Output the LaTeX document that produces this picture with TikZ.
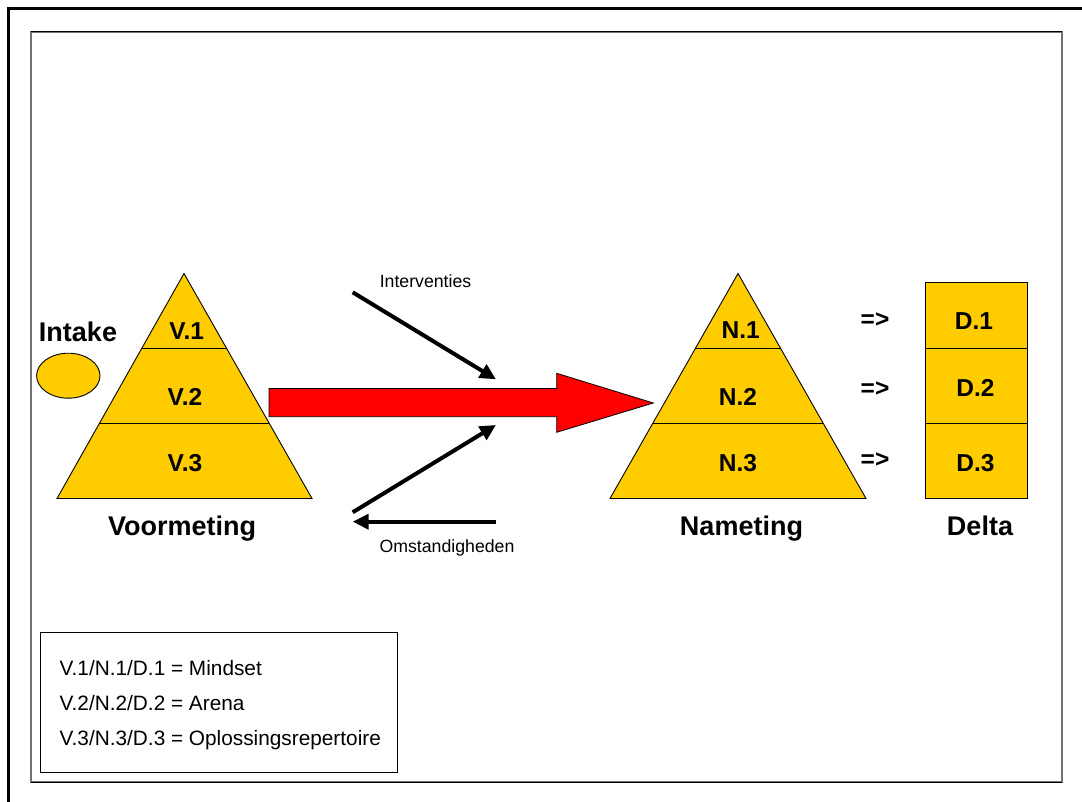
\documentclass[tikz,border=0pt]{standalone}
\usepackage{fontspec}
\setmainfont{Liberation Sans}
\usetikzlibrary{arrows.meta,shapes.geometric,calc}
\definecolor{gold}{RGB}{255,204,0}
\definecolor{framegray}{RGB}{115,115,115}
\begin{document}
\begin{tikzpicture}[x=1pt,y=-1pt,
  layer/.style={fill=gold,draw=black,line width=0.9pt,line join=miter},
  divider/.style={draw=black,line width=0.9pt},
  biglabel/.style={anchor=base,inner sep=0pt,font=\fontsize{27}{30}\selectfont\bfseries},
  tierlabel/.style={anchor=base,inner sep=0pt,font=\fontsize{24.5}{28}\selectfont\bfseries},
  smalllabel/.style={anchor=base,inner sep=0pt,font=\fontsize{17.7}{20}\selectfont},
  legendline/.style={anchor=base west,inner sep=0pt,font=\fontsize{20.8}{24}\selectfont},
  influence/.style={line width=4pt,-{Triangle[length=16pt,width=15pt]}},
]
\useasboundingbox (0,0) rectangle (1082,802);
\fill[white] (0,0) rectangle (1082,802);

% page frame
\draw[line width=3pt] (8.5,802) -- (8.5,8.5) -- (1082,8.5);
\draw[framegray,line width=1.8pt] (31,32) rectangle (1062,782);
\draw[black,line width=1pt] (31,32) -- (1062,32);
\draw[black,line width=1pt] (31,782) -- (1062,782);

% pyramid before (Voormeting)
\coordinate (va) at (184,273.5);
\coordinate (vl) at (57,498.5);
\coordinate (vr) at (312,498.5);
\path[layer] (va) -- (vl) -- (vr) -- cycle;
\draw[divider] ($(va)!1/3!(vl)$) -- ($(va)!1/3!(vr)$);
\draw[divider] ($(va)!2/3!(vl)$) -- ($(va)!2/3!(vr)$);
\node[tierlabel] (v1) at (186.7,339.3) {V.1};
\node[tierlabel] (v2) at (185,405.5) {V.2};
\node[tierlabel] (v3) at (185,471.5) {V.3};
\node[biglabel] (voor) at (182,535) {Voormeting};

% intake
\node[biglabel] (intake) at (78,341.7) {Intake};
\node[ellipse,fill=gold,draw=black,line width=0.9pt,minimum width=63.4pt,minimum height=45pt,inner sep=0pt] (intakeoval) at (68.3,375.7) {};

% pyramid after (Nameting)
\coordinate (na) at (738,273.5);
\coordinate (nl) at (610,498.5);
\coordinate (nr) at (866,498.5);
\path[layer] (na) -- (nl) -- (nr) -- cycle;
\draw[divider] ($(na)!1/3!(nl)$) -- ($(na)!1/3!(nr)$);
\draw[divider] ($(na)!2/3!(nl)$) -- ($(na)!2/3!(nr)$);
\node[tierlabel] (n1) at (740.8,338.5) {N.1};
\node[tierlabel] (n2) at (738,405) {N.2};
\node[tierlabel] (n3) at (738,471.5) {N.3};
\node[biglabel] (na2) at (741.5,535) {Nameting};

% delta column
\node[layer,rectangle,minimum width=102pt,minimum height=66pt,inner sep=0pt] (d1box) at (976.7,315.3) {};
\node[layer,rectangle,minimum width=102pt,minimum height=75pt,inner sep=0pt] (d2box) at (976.7,385.8) {};
\node[layer,rectangle,minimum width=102pt,minimum height=75pt,inner sep=0pt] (d3box) at (976.7,460.8) {};
\node[tierlabel] (d1) at (974,330) {D.1};
\node[tierlabel] (d2) at (975.5,396.7) {D.2};
\node[tierlabel] (d3) at (975.5,471.5) {D.3};
\node[biglabel] (delta) at (980,535) {Delta};
\node[tierlabel] (imp1) at (875,327.8) {=>};
\node[tierlabel] (imp2) at (875,396) {=>};
\node[tierlabel] (imp3) at (875,467.8) {=>};

% main transition arrow
\path[fill=red,draw=black,line width=0.8pt,line join=miter]
  (269,388.5) -- (556.7,388.5) -- (556.7,373.3) -- (653.3,403) --
  (556.7,432.3) -- (556.7,416.7) -- (269,416.7) -- cycle;

% interventions and circumstances
\coordinate (intstart) at (352.7,292.3);
\coordinate (intend) at (496,379.3);
\coordinate (omstart) at (352.7,512.3);
\coordinate (omend) at (496,425);
\coordinate (backstart) at (496,521.7);
\coordinate (backend) at (352.7,521.7);
\draw[influence] (intstart) -- (intend);
\draw[influence] (omstart) -- (omend);
\draw[influence] (backstart) -- (backend);
\node[smalllabel] (interv) at (425.5,287.3) {Interventies};
\node[smalllabel] (omst) at (447,552) {Omstandigheden};

% legend
\node[draw=black,line width=0.9pt,rectangle,minimum width=357.7pt,minimum height=140.4pt,inner sep=0pt] (legend) at (218.85,702.5) {};
\node[legendline] (leg1) at (59.5,675) {V.1/N.1/D.1 = Mindset};
\node[legendline] (leg2) at (59.5,710) {V.2/N.2/D.2 = Arena};
\node[legendline] (leg3) at (59.5,745) {V.3/N.3/D.3 = Oplossingsrepertoire};
\end{tikzpicture}
\end{document}
